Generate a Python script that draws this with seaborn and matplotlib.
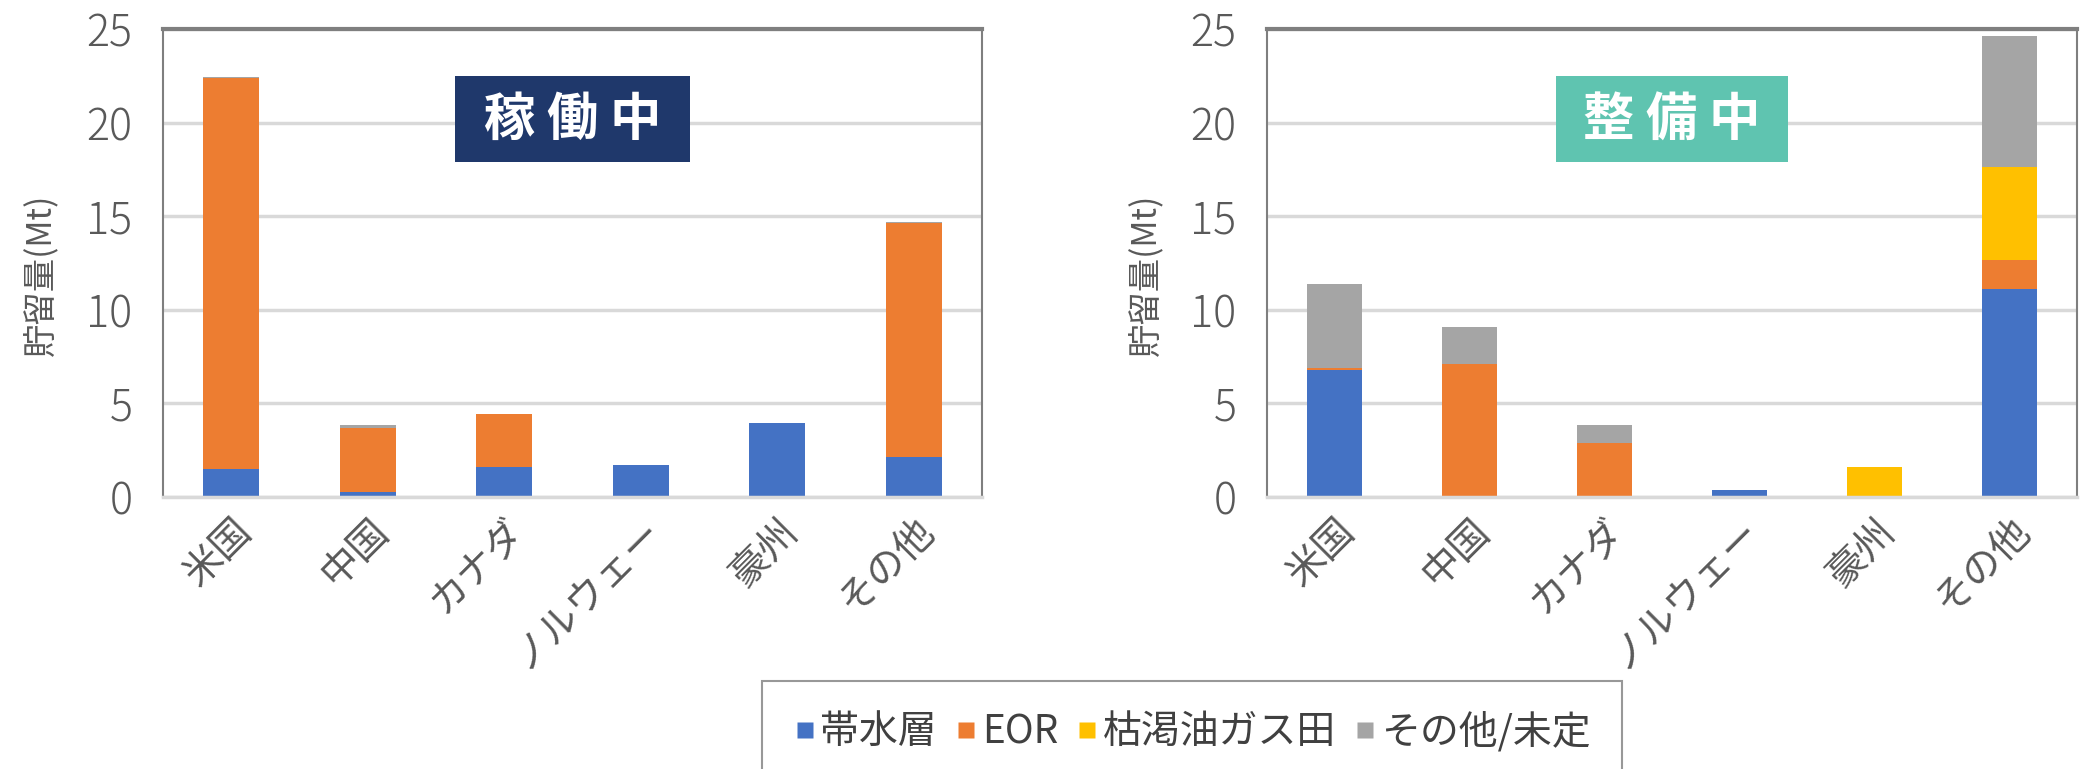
import pandas as pd
from matplotlib import pyplot as plt
from matplotlib.lines import Line2D
from matplotlib.patches import Rectangle
import seaborn as sns

countries = ['米国', '中国', 'カナダ', 'ノルウェー', '豪州', 'その他']
series = ['帯水層', 'EOR', '枯渇油ガス田', 'その他/未定']
colors = ['#4472C4', '#ED7D31', '#FFC000', '#A5A5A5']

# 稼働中 (operating)
op_aquifer = [1.5, 0.25, 1.6, 1.7, 3.95, 2.15]
op_eor = [20.9, 3.45, 2.85, 0.0, 0.0, 12.5]
op_depleted = [0.0, 0.0, 0.0, 0.0, 0.0, 0.0]
op_other = [0.05, 0.17, 0.0, 0.0, 0.0, 0.05]

# 整備中 (in development)
dev_aquifer = [6.8, 0.0, 0.0, 0.35, 0.0, 11.1]
dev_eor = [0.1, 7.1, 2.9, 0.0, 0.0, 1.55]
dev_depleted = [0.0, 0.0, 0.0, 0.0, 1.6, 5.0]
dev_other = [4.5, 2.0, 0.95, 0.0, 0.0, 7.0]

sns.set_theme(style='white')
plt.rcParams['font.family'] = ['Noto Sans CJK JP', 'DejaVu Sans']

fig = plt.figure(figsize=(20.8, 7.69), dpi=100)
ax1 = fig.add_axes([0.0784, 0.3537, 0.3938, 0.6086])
ax2 = fig.add_axes([0.6091, 0.3537, 0.3895, 0.6086])


def stacked(ax, parts, title, box_color):
    df = pd.DataFrame({s: v for s, v in zip(series, parts)}, index=countries)
    cum = df.cumsum(axis=1)
    # draw from the top of the stack down so lower parts cover upper ones
    for s, c in reversed(list(zip(series, colors))):
        sns.barplot(x=countries, y=cum[s].values, color=c, width=0.41,
                    saturation=1, ax=ax, edgecolor='none')
    ax.set_ylim(0, 25)
    ax.set_yticks([0, 5, 10, 15, 20, 25])
    ax.set_yticklabels(['0', '5', '10', '15', '20', '25'], fontsize=31,
                       color='#595959', fontweight='light')
    ax.set_xticks(range(len(countries)))
    ax.set_xticklabels(countries, rotation=45, ha='right', rotation_mode='anchor',
                       fontsize=28, color='#595959')
    ax.tick_params(axis='y', pad=22, length=0)
    ax.tick_params(axis='x', pad=10, length=0)
    ax.set_ylabel('貯留量(Mt)', fontsize=24, color='#595959')
    ax.yaxis.set_label_coords(-0.128, 0.475)
    ax.yaxis.grid(True, color='#D9D9D9', linewidth=2.5)
    ax.set_axisbelow(True)
    for side in ['left', 'right']:
        ax.spines[side].set_color('#7F7F7F')
        ax.spines[side].set_linewidth(1.5)
    ax.spines['top'].set_color('#7F7F7F')
    ax.spines['top'].set_linewidth(3)
    ax.spines['bottom'].set_color('#D9D9D9')
    ax.spines['bottom'].set_linewidth(2.5)
    ax.add_patch(Rectangle((0.3565, 0.716), 0.287, 0.184, transform=ax.transAxes,
                           facecolor=box_color, edgecolor='none', zorder=5))
    ax.text(0.5, 0.806, title, transform=ax.transAxes, ha='center', va='center',
            fontsize=37, fontweight='bold', color='white', zorder=6)


stacked(ax1, [op_aquifer, op_eor, op_depleted, op_other], '稼 働 中', '#1F386B')
stacked(ax2, [dev_aquifer, dev_eor, dev_depleted, dev_other], '整 備 中', '#5FC4B0')

handles = [Line2D([0], [0], marker='s', linestyle='none', markersize=12,
                  markerfacecolor=c, markeredgecolor='none') for c in colors]
leg = fig.legend(handles, series, loc='center', bbox_to_anchor=(0.573, 0.048),
                 ncol=4, fontsize=28, frameon=True, fancybox=False,
                 handlelength=0.6, handletextpad=0.1, columnspacing=0.45,
                 borderpad=0.8, borderaxespad=0, labelcolor='#404040')
leg.get_frame().set_edgecolor('#7F7F7F')
leg.get_frame().set_linewidth(1.5)

plt.savefig('out.png', dpi=100)
